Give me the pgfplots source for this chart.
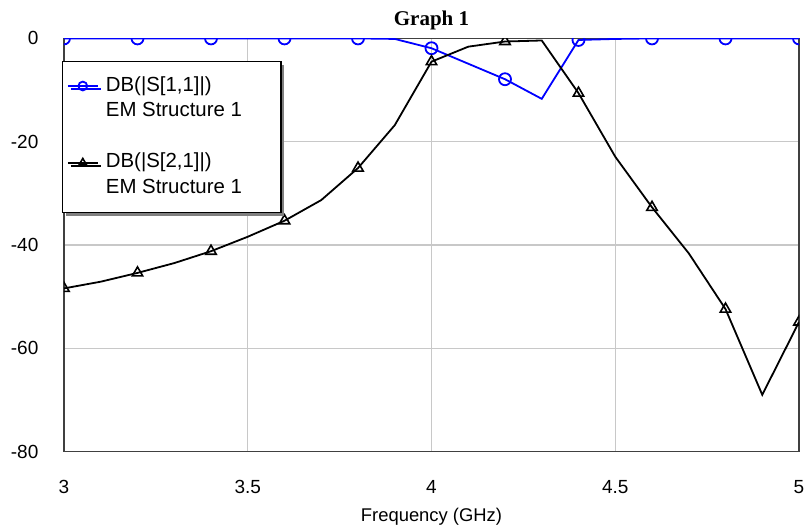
\documentclass[border=0pt]{standalone}
\usepackage{fontspec}
\setmainfont{Liberation Sans}
\newfontfamily\titlefont{Liberation Serif}
\usepackage{pgfplots}
\pgfplotsset{compat=1.18}
\usetikzlibrary{shadows}
\definecolor{gridgray}{RGB}{200,200,200}
\definecolor{axgray}{RGB}{64,64,64}

\newcommand{\entry}[1]{\makebox[85.5pt][l]{#1}}

\begin{document}
\begin{tikzpicture}
\begin{axis}[
  at={(0,0)}, anchor=south west,
  scale only axis, width=367.5pt, height=206.6pt,
  xmin=3, xmax=5, ymin=-80, ymax=0,
  xtick={3,3.5,4,4.5,5}, xticklabels={3,3.5,4,4.5,5},
  ytick={-80,-60,-40,-20,0}, yticklabels={-80,-60,-40,-20,0},
  major tick length=0pt,
  grid=major, grid style={gridgray, line width=0.6pt},
  axis line style={axgray, line width=0.7pt},
  tick label style={font=\fontsize{9.5}{11}\selectfont},
  xticklabel style={yshift=-11pt},
  yticklabel style={xshift=-9.3pt},
  xlabel={Frequency (GHz)},
  xlabel style={font=\fontsize{9.2}{11}\selectfont, at={(0.5,0)}, anchor=center, yshift=-32.5pt},
  title={\titlefont\bfseries Graph 1},
  title style={font=\fontsize{10.5}{12}\selectfont, at={(0.5,1)}, anchor=base, yshift=0.7pt},
  clip marker paths=true,
  legend cell align=left,
  legend image code/.code={
    \draw[mark repeat=2, mark phase=2, #1, mark size=2.2pt]
      plot coordinates {(0pt,0pt) (7.5pt,0pt) (15pt,0pt)};},
  legend style={at={(rel axis cs:0,0.9453)}, anchor=north west, xshift=-0.85pt,
    draw=black, line width=0.6pt, fill=white,
    font=\fontsize{10.2}{12.2}\selectfont,
    inner xsep=2pt, inner ysep=7.2pt,
    nodes={inner sep=0pt, text height=7.5pt, text depth=2.5pt},
    column sep=3.6pt, row sep=2.8pt,
    general shadow={fill=gray, shadow xshift=1.5pt, shadow yshift=-1.5pt}},
]
\addplot[blue, line width=0.9pt, mark=o, mark size=3pt, mark repeat=2,
  mark options={line width=0.9pt}]
  coordinates {(3.0,0) (3.1,0) (3.2,0) (3.3,0) (3.4,0) (3.5,0) (3.6,0) (3.7,0)
    (3.8,0) (3.9,-0.1) (4.0,-1.9) (4.1,-4.9) (4.2,-7.9) (4.3,-11.7) (4.4,-0.3)
    (4.5,-0.1) (4.6,0) (4.7,0) (4.8,0) (4.9,0) (5.0,0)};
\addlegendentry{\entry{DB(|S[1,1]|)}}
\addlegendimage{empty legend}
\addlegendentry{\entry{EM Structure 1}}
\addlegendimage{empty legend}
\addlegendentry{\entry{\mbox{}}}
\addplot[black, line width=0.9pt, mark=triangle, mark size=3pt, mark repeat=2,
  mark options={line width=0.8pt}]
  coordinates {(3.0,-48.4) (3.1,-47.1) (3.2,-45.4) (3.3,-43.5) (3.4,-41.2)
    (3.5,-38.4) (3.6,-35.3) (3.7,-31.3) (3.8,-25.1) (3.9,-16.8) (4.0,-4.5)
    (4.1,-1.6) (4.2,-0.6) (4.3,-0.4) (4.4,-10.6) (4.5,-22.9) (4.6,-32.7)
    (4.7,-41.6) (4.8,-52.4) (4.9,-69.0) (5.0,-54.9)};
\addlegendentry{\entry{DB(|S[2,1]|)}}
\addlegendimage{empty legend}
\addlegendentry{\entry{EM Structure 1}}
\end{axis}
\pgfresetboundingbox
\path[use as bounding box] (-32pt,-37.2pt) rectangle (371.5pt,225.8pt);
\end{tikzpicture}
\end{document}
